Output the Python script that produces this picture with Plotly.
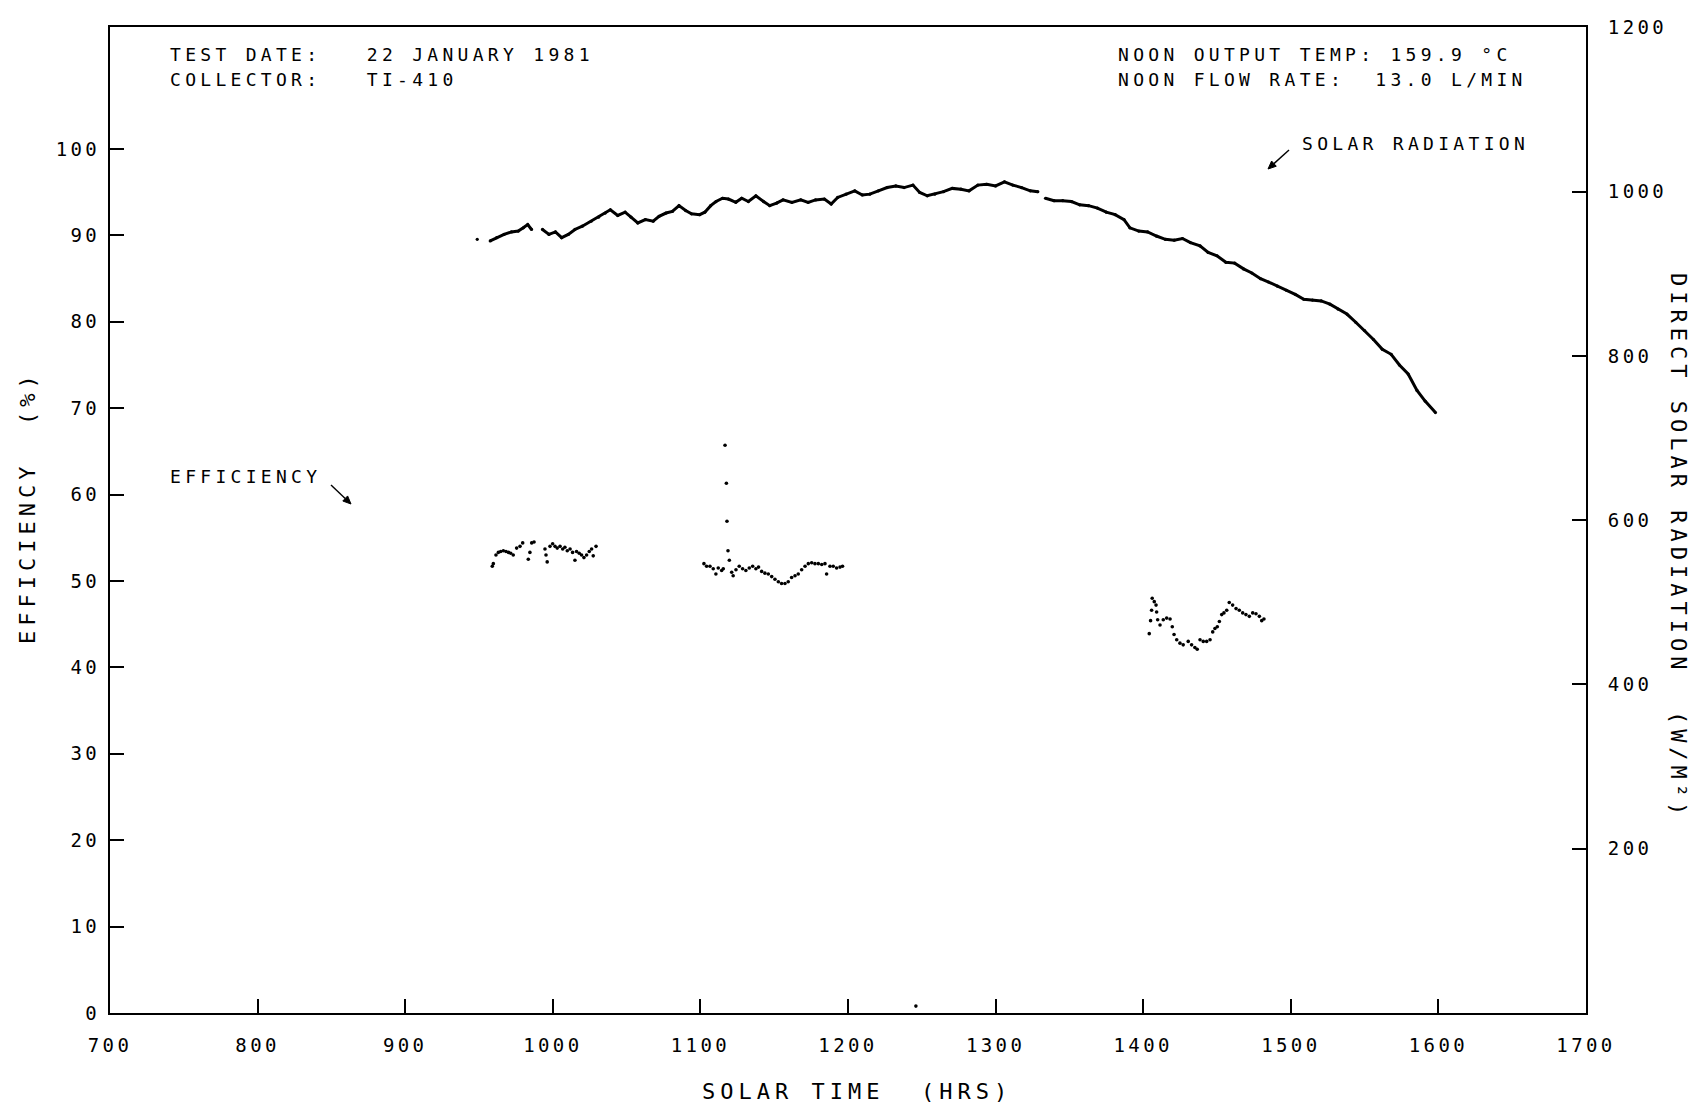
import math
import plotly.graph_objects as go

# ---------------- data ----------------
rad_time = [948.8, None,
            957.6, 962, 967, 972, 976.6, 980, 983, 985.6, None,
            993, 997.4, 1001.8, 1006, 1010.5, 1015, 1020, 1026, 1031, 1035.5, 1039, 1044, 1049,
            1053, 1057.6, 1062.7, 1068, 1072, 1076.7, 1081, 1085.5, 1090, 1094, 1099.5, 1103,
            1107, 1110.6, 1115, 1119, 1124, 1128, 1132.5, 1137.6, 1142.8, 1147, 1151.6, 1156,
            1162, 1168, 1173, 1178, 1184, 1188.6, 1193, 1198.7, 1204.6, 1209.7, 1214.8, 1220.6,
            1226.5, 1232.4, 1238, 1244, 1248.6, 1253.7, 1258.8, 1264.7, 1270.6, 1276.5, 1282,
            1288, 1294, 1300, 1306, 1311.7, 1317.6, 1323.5, 1328.6, None,
            1333.8, 1339.6, 1345.5, 1351.4, 1357, 1363, 1369, 1375, 1381, 1387, 1391, 1397,
            1403, 1409, 1415, 1421, 1426.6, 1432, 1438.5, 1444, 1450, 1456, 1462, 1468, 1473.6,
            1479.5, 1485, 1491, 1497, 1503, 1508.8, 1514.7, 1520.6, 1526.5, 1532, 1538, 1544,
            1550, 1556, 1562, 1568, 1573.6, 1579.5, 1585.5, 1591, 1598]
rad_value = [942, None,
             940, 944, 948, 951, 952, 956, 960, 954, None,
             954, 948, 951, 944, 948, 954, 958, 964, 969, 974, 978, 971, 975,
             969, 962, 966, 964, 970, 974, 976, 983, 977, 973, 972, 975,
             983, 988, 992, 991, 987, 992, 988, 995, 988, 983, 986, 990,
             987, 990, 987, 990, 991, 985, 993, 997, 1001, 996, 997, 1001,
             1005, 1007, 1005, 1008, 999, 995, 997, 1000, 1004, 1003, 1001,
             1008, 1009, 1007, 1012, 1008, 1005, 1001, 1000, None,
             992, 989, 989, 988, 984, 983, 980, 975, 972, 966, 956, 952,
             951, 946, 942, 941, 943, 938, 934, 926, 922, 914, 913, 906, 901,
             894, 890, 885, 880, 875, 869, 868, 867, 863, 857, 851, 841,
             831, 820, 808, 802, 789, 778, 758, 745, 731]

eff_time = [959, 959.7, 961.5, 963.1, 964.7, 966.5, 968.3, 970, 971.5, 973.2, 975.5, 977.8,
            979.6, 983.4, 984.5, 985.7, 987.3, 994.7, 995.4, 996.2, 998.1, 999.9, 1001.5,
            1003, 1004.9, 1006.7, 1008.2, 1009.8, 1011.7, 1013.4, 1015, 1016.1, 1017.9,
            1019.5, 1021.1, 1022.9, 1024.7, 1026.3, 1027.4, 1029.3,
            1102.4, 1104.2, 1106.5, 1108.7, 1110.5, 1112.1, 1114.4, 1115.5, 1116.7, 1117.6,
            1118, 1118.7, 1119.6, 1121.2, 1122.2, 1124.1, 1126.3, 1128.6, 1130.8, 1133.1,
            1135.4, 1137.6, 1139.4, 1141.5, 1143.7, 1146, 1148.3, 1150.5, 1152.8, 1155,
            1157.3, 1159.5, 1161.8, 1164.1, 1166.3, 1168.6, 1170.9, 1173.1, 1175.4, 1177.6,
            1179.9, 1182.2, 1184.4, 1185.5, 1187.8, 1190, 1192.3, 1194.6, 1196.3,
            1246,
            1404.1, 1405, 1405.7, 1406.1, 1407.5, 1408.7, 1409.1, 1409.8, 1411.4, 1413.6,
            1415.9, 1418.2, 1419.7, 1420.9, 1422.7, 1424.9, 1427.1, 1430.5, 1432.8, 1435,
            1436.6, 1438.5, 1440.7, 1443, 1445.3, 1447.1, 1448.6, 1450.2, 1451.6, 1453.2,
            1454.7, 1456.6, 1458.3, 1460.6, 1462.9, 1465.1, 1467.4, 1469.6, 1471.9, 1474.2,
            1476.4, 1478.7, 1480.3, 1481.8]
eff_value = [51.7, 52.0, 53.0, 53.3, 53.4, 53.5, 53.4, 53.3, 53.2, 53.0, 53.8, 54.0,
             54.4, 52.5, 53.3, 54.4, 54.5, 53.7, 53.0, 52.2, 54.0, 54.3, 54.0,
             53.8, 54.0, 53.7, 53.9, 53.5, 53.7, 53.3, 52.4, 53.4, 53.2,
             53.0, 52.7, 53.0, 53.4, 53.7, 52.9, 54.0,
             52.0, 51.7, 51.7, 51.4, 50.8, 51.5, 51.2, 51.4, 65.7, 61.3,
             56.9, 53.5, 52.4, 51.0, 50.6, 51.3, 51.7, 51.4, 51.2, 51.5,
             51.7, 51.4, 51.6, 51.1, 50.9, 50.8, 50.5, 50.2, 49.9, 49.7,
             49.7, 49.9, 50.4, 50.6, 50.8, 51.3, 51.7, 52.0, 52.1, 52.0,
             52.0, 51.9, 52.0, 50.8, 51.7, 51.7, 51.5, 51.6, 51.7,
             0.8,
             43.9, 45.4, 46.6, 48.0, 47.6, 47.2, 46.4, 45.5, 44.9, 45.5,
             45.7, 45.6, 44.7, 43.8, 43.2, 42.8, 42.6, 43.0, 42.6, 42.3,
             42.1, 43.2, 43.0, 43.0, 43.2, 44.1, 44.5, 44.7, 45.3, 46.1,
             46.3, 46.6, 47.5, 47.2, 46.8, 46.6, 46.3, 46.1, 45.9, 46.3,
             46.2, 45.9, 45.4, 45.6]

x_ticks = [700, 800, 900, 1000, 1100, 1200, 1300, 1400, 1500, 1600, 1700]
eff_ticks = [0, 10, 20, 30, 40, 50, 60, 70, 80, 90, 100]
rad_ticks = [200, 400, 600, 800, 1000, 1200]

FONT = "DejaVu Sans Mono"


def sp(text, ls):
    return f"<span style='letter-spacing:{ls}px'>{text}</span>"


TL = 3.4  # letter spacing for tick labels

fig = go.Figure()
fig.add_trace(go.Scatter(x=rad_time, y=rad_value, mode="lines+markers", yaxis="y2",
                         line=dict(color="black", width=3), connectgaps=False,
                         marker=dict(color="black", size=3.2),
                         showlegend=False, name="SOLAR RADIATION"))
fig.add_trace(go.Scatter(x=eff_time, y=eff_value, mode="markers", yaxis="y",
                         marker=dict(color="black", size=3.6), showlegend=False,
                         name="EFFICIENCY"))

axis_common = dict(showgrid=False, zeroline=False, showline=True, linecolor="black",
                   linewidth=2, ticks="inside", ticklen=14, tickwidth=1.5, tickcolor="black",
                   tickfont=dict(family=FONT, size=19, color="black"))

fig.update_layout(
    width=1701, height=1108, autosize=False,
    margin=dict(l=110, r=115, t=27, b=95),
    paper_bgcolor="white", plot_bgcolor="white",
    font=dict(family=FONT, color="black"),
    xaxis=dict(range=[700, 1700], tickvals=x_ticks,
               ticktext=[sp(str(v), TL) for v in x_ticks], mirror=True,
               ticklabelstandoff=14, **axis_common),
    yaxis=dict(range=[0, 114.1], tickvals=eff_ticks,
               ticktext=[sp(str(v), TL) for v in eff_ticks],
               ticklabelstandoff=4, **axis_common),
    yaxis2=dict(range=[0, 1200.5], tickvals=rad_ticks,
                ticktext=[sp(str(v), TL) for v in rad_ticks], overlaying="y", side="right",
                ticklabelstandoff=16, **axis_common),
)

# plot area in page pixels: left 110, right 1586, top 27, bottom 1013


def px_x(x):
    return (x - 110) / 1476.0


def px_y(y):
    return (1013 - y) / 986.0


note_font = dict(family=FONT, size=18, color="black")
title_font = dict(family=FONT, size=22, color="black")
notes = [
    ("TEST DATE:   22 JANUARY 1981", 168, 55),
    ("COLLECTOR:   TI-410", 168, 80),
    ("NOON OUTPUT TEMP: 159.9 °C", 1116, 55),
    ("NOON FLOW RATE:  13.0 L/MIN", 1116, 80),
    ("SOLAR RADIATION", 1300, 144),
    ("EFFICIENCY", 168, 476),
]
for txt, x, y in notes:
    fig.add_annotation(text=sp(txt, 4.3), x=px_x(x), y=px_y(y), xref="paper", yref="paper",
                       xanchor="left", yanchor="middle", showarrow=False, font=note_font)


# pointer arrows drawn as shapes (shaft + filled head), in page pixels
def add_arrow(tail, head, head_len=8, head_half=3.5):
    (tx, ty), (hx, hy) = tail, head
    dx, dy = hx - tx, hy - ty
    n = math.hypot(dx, dy)
    ux, uy = dx / n, dy / n
    bx, by = hx - ux * head_len, hy - uy * head_len
    p1 = (bx - uy * head_half, by + ux * head_half)
    p2 = (bx + uy * head_half, by - ux * head_half)
    fig.add_shape(type="line", xref="paper", yref="paper",
                  x0=px_x(tx), y0=px_y(ty), x1=px_x(bx), y1=px_y(by),
                  line=dict(color="black", width=1.4))
    path = (f"M {px_x(hx)} {px_y(hy)} L {px_x(p1[0])} {px_y(p1[1])} "
            f"L {px_x(p2[0])} {px_y(p2[1])} Z")
    fig.add_shape(type="path", xref="paper", yref="paper", path=path,
                  fillcolor="black", line=dict(color="black", width=1))


add_arrow((331, 485), (351, 504))
add_arrow((1289, 150), (1268, 169))

# axis titles
fig.add_annotation(text=sp("SOLAR TIME  (HRS)", 5), x=px_x(857), y=px_y(1091),
                   xref="paper", yref="paper", showarrow=False, font=title_font,
                   xanchor="center", yanchor="middle")
fig.add_annotation(text=sp("EFFICIENCY  (%)", 5), x=px_x(27), y=px_y(507),
                   xref="paper", yref="paper", showarrow=False, font=title_font,
                   textangle=-90, xanchor="center", yanchor="middle")
fig.add_annotation(text=sp("DIRECT SOLAR RADIATION  (W/M²)", 5), x=px_x(1679),
                   y=px_y(546), xref="paper", yref="paper", showarrow=False, font=title_font,
                   textangle=90, xanchor="center", yanchor="middle")

fig.write_html("out.html")
